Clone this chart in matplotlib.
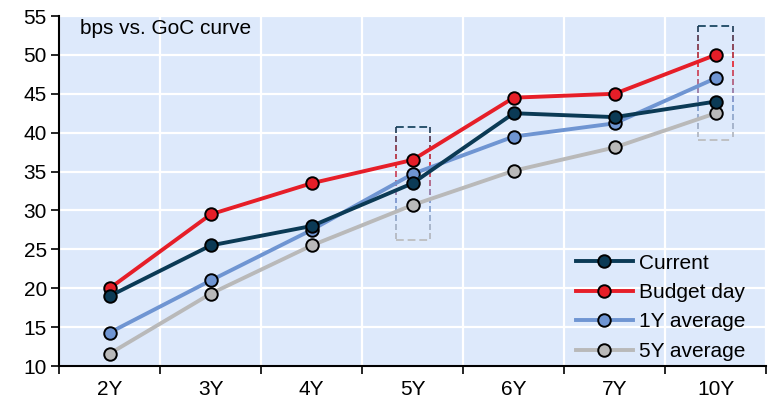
import numpy as np
import matplotlib
matplotlib.use("Agg")
import matplotlib.pyplot as plt
from matplotlib.colors import LinearSegmentedColormap

plt.rcParams["font.family"] = ["Liberation Sans", "DejaVu Sans"]

# ── Data ───────────────────────────────────────────────────────────────────────
tenors      = ["2Y", "3Y", "4Y", "5Y", "6Y", "7Y", "10Y"]
current     = [19.0, 25.5, 28.0, 33.5, 42.5, 42.0, 44.0]
budget_day  = [20.0, 29.5, 33.5, 36.5, 44.5, 45.0, 50.0]
avg_1y      = [14.3, 21.0, 27.5, 34.7, 39.5, 41.2, 47.0]
avg_5y      = [11.6, 19.3, 25.5, 30.7, 35.1, 38.1, 42.5]

# highlighted tenors: (index, low, high)
highlight_idx  = [3, 6]
highlight_low  = [26.2, 39.0]
highlight_high = [40.7, 53.7]

# ── Styling ────────────────────────────────────────────────────────────────────
NAVY, RED, BLUE, GREY = "#0b3a55", "#e61e28", "#6f95d2", "#b9b9b9"
BG = "#dde9fb"
FS = 15

fig = plt.figure(figsize=(7.7, 4.0), dpi=100)
ax = fig.add_axes([0.077, 0.085, 0.918, 0.875])
ax.set_facecolor(BG)

x = np.arange(len(tenors))
series = [("Current", current, NAVY),
          ("Budget day", budget_day, RED),
          ("1Y average", avg_1y, BLUE),
          ("5Y average", avg_5y, GREY)]
zorders = {"Current": 5, "Budget day": 4, "1Y average": 3, "5Y average": 2}
for name, vals, col in series:
    ax.plot(x, vals, color=col, lw=2.8, marker="o", ms=9,
            mfc=col, mec="black", mew=1.4, label=name, zorder=zorders[name])

# dashed boxes, sides fading navy -> red -> blue -> grey
cmap = LinearSegmentedColormap.from_list("box", [NAVY, RED, BLUE, GREY])
hw = 0.17
dash = (0, (4, 2))
for i, lo, hi in zip(highlight_idx, highlight_low, highlight_high):
    ax.plot([i - hw, i + hw], [hi, hi], color=NAVY, lw=1.4, ls=dash,
            alpha=0.85, zorder=1.5)
    ax.plot([i - hw, i + hw], [lo, lo], color=GREY, lw=1.4, ls=dash,
            alpha=0.85, zorder=1.5)
    # vertical sides: short dashes with a colour fade
    y0 = hi
    while y0 > lo:
        y1 = max(y0 - 0.75, lo)
        c = cmap((hi - (y0 + y1) / 2) / (hi - lo))
        for xx in (i - hw, i + hw):
            ax.plot([xx, xx], [y0, y1], color=c, lw=1.4, alpha=0.85,
                    zorder=1.5, solid_capstyle="butt")
        y0 = y1 - 0.38

# axes
ax.set_xlim(-0.5, len(tenors) - 0.5)
ax.set_ylim(10, 55)
ax.set_yticks(np.arange(10, 56, 5))
ax.set_xticks(x)
ax.set_xticklabels(tenors)
ax.set_xticks(np.arange(-0.5, len(tenors), 1.0), minor=True)
ax.tick_params(axis="x", which="major", length=0, labelsize=FS, pad=10)
ax.tick_params(axis="x", which="minor", length=6, width=1.2, direction="out")
ax.tick_params(axis="y", length=6, width=1.2, labelsize=FS, direction="out",
               pad=3)

ax.grid(axis="y", which="major", color="white", lw=1.6, zorder=0)
ax.grid(axis="x", which="minor", color="white", lw=1.6, zorder=0)
ax.set_axisbelow(True)

for s in ("top", "right"):
    ax.spines[s].set_visible(False)
for s in ("left", "bottom"):
    ax.spines[s].set_linewidth(1.5)

ax.text(0.03, 0.99, "bps vs. GoC curve", transform=ax.transAxes,
        fontsize=FS, va="top", ha="left")

leg = ax.legend(loc="lower right", frameon=False, fontsize=FS,
                handlelength=2.7, handletextpad=0.3, labelspacing=0.5,
                borderaxespad=0.1, bbox_to_anchor=(0.985, -0.015))

fig.savefig("out.png", dpi=100)
